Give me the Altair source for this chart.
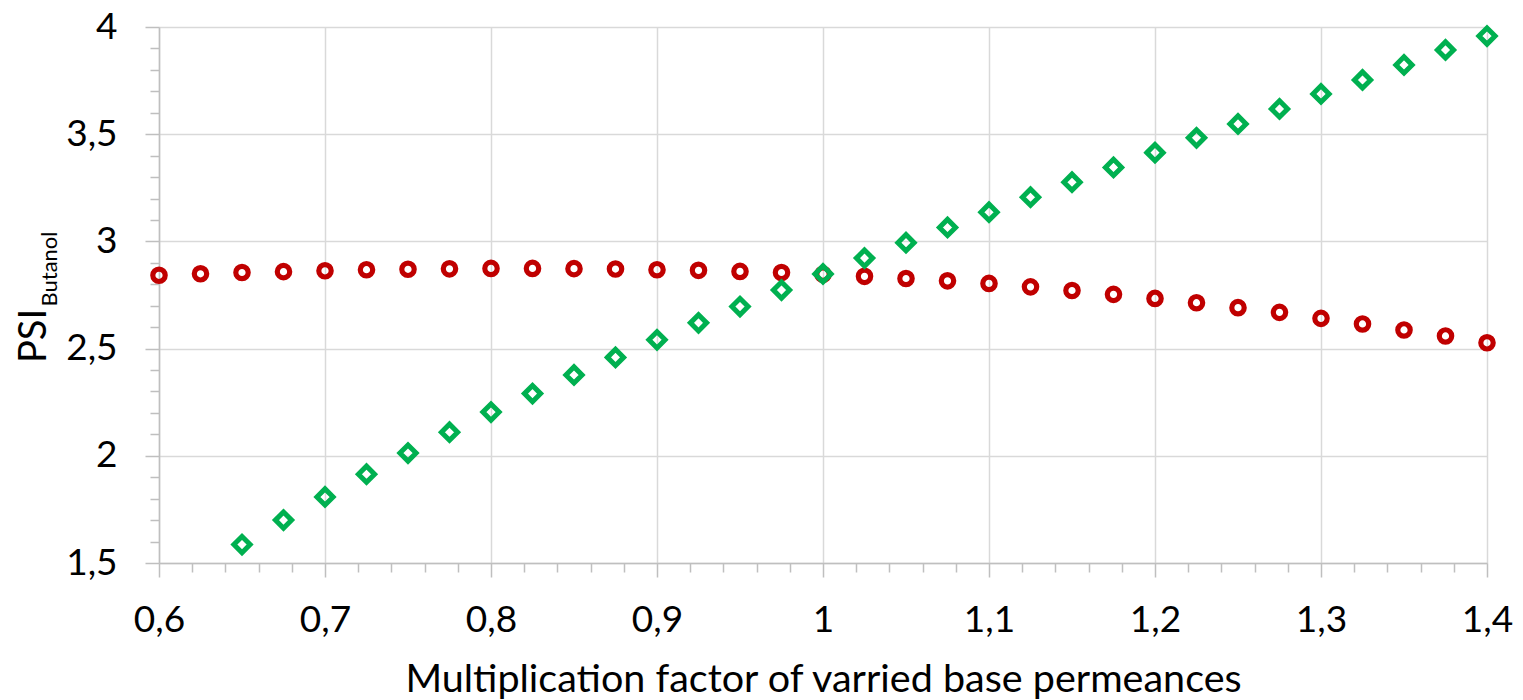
import altair as alt
import pandas as pd

# ---- data ----
red_x = [0.6, 0.625, 0.65, 0.675, 0.7, 0.725, 0.75, 0.775, 0.8, 0.825, 0.85,
         0.875, 0.9, 0.925, 0.95, 0.975, 1.0, 1.025, 1.05, 1.075, 1.1, 1.125,
         1.15, 1.175, 1.2, 1.225, 1.25, 1.275, 1.3, 1.325, 1.35, 1.375, 1.4]
red_y = [2.842, 2.849, 2.855, 2.859, 2.863, 2.868, 2.870, 2.872, 2.874, 2.874,
         2.873, 2.871, 2.868, 2.865, 2.860, 2.855, 2.847, 2.837, 2.827, 2.816,
         2.804, 2.788, 2.771, 2.753, 2.734, 2.714, 2.691, 2.669, 2.641, 2.615,
         2.587, 2.559, 2.527]

green_x = [0.65, 0.675, 0.7, 0.725, 0.75, 0.775, 0.8, 0.825, 0.85, 0.875, 0.9,
           0.925, 0.95, 0.975, 1.0, 1.025, 1.05, 1.075, 1.1, 1.125, 1.15, 1.175,
           1.2, 1.225, 1.25, 1.275, 1.3, 1.325, 1.35, 1.375, 1.4]
green_y = [1.586, 1.700, 1.808, 1.914, 2.013, 2.110, 2.204, 2.290, 2.377, 2.459,
           2.541, 2.620, 2.696, 2.773, 2.848, 2.922, 2.994, 3.065, 3.136, 3.206,
           3.276, 3.345, 3.414, 3.483, 3.548, 3.618, 3.688, 3.753, 3.823, 3.893,
           3.958]

x_ticks = [round(0.6 + 0.02 * i, 2) for i in range(41)]
y_ticks = [round(1.5 + 0.1 * i, 1) for i in range(26)]

x_title = "Multiplication factor of varried base permeances"
y_title_main = "PSI"
y_title_sub = "Butanol"

red_df = pd.DataFrame({"x": red_x, "y": red_y})
green_df = pd.DataFrame({"x": green_x, "y": green_y})

FONT = "Lato"
x_major = "abs(datum.value*10 - round(datum.value*10)) < 0.000001"
y_major = "abs(datum.value*2 - round(datum.value*2)) < 0.000001"

x_axis = alt.Axis(
    values=x_ticks,
    title=x_title,
    labelExpr=f"{x_major} ? replace(format(datum.value, '.1~f'), '.', ',') : ''",
    tickSize={"condition": {"test": x_major, "value": 14}, "value": 9},
    gridOpacity={"condition": {"test": x_major, "value": 1}, "value": 0},
    labelPadding=25,
    titlePadding=22,
    labelFlush=False,
    labelOverlap=False,
)
y_axis = alt.Axis(
    values=y_ticks,
    title="",
    labelExpr=f"{y_major} ? replace(format(datum.value, '.1~f'), '.', ',') : ''",
    tickSize={"condition": {"test": y_major, "value": 14}, "value": 9},
    gridOpacity={"condition": {"test": y_major, "value": 1}, "value": 0},
    labelPadding=28,
    labelOverlap=False,
)

xs = alt.Scale(domain=[0.6, 1.4], nice=False, zero=False)
ys = alt.Scale(domain=[1.5, 4.0], nice=False, zero=False)

red = alt.Chart(red_df).mark_point(
    shape="circle", filled=False, size=154, strokeWidth=5.2, color="#C00000", opacity=1
).encode(
    x=alt.X("x:Q", scale=xs, axis=x_axis),
    y=alt.Y("y:Q", scale=ys, axis=y_axis),
)

green = alt.Chart(green_df).mark_point(
    shape="diamond", filled=False, size=262, strokeWidth=5, color="#00B050", opacity=1
).encode(
    x=alt.X("x:Q", scale=xs, axis=x_axis),
    y=alt.Y("y:Q", scale=ys, axis=y_axis),
)

t_main = alt.Chart(pd.DataFrame({"t": [y_title_main]})).mark_text(
    angle=270, align="center", baseline="alphabetic", font=FONT, fontSize=38, color="black"
).encode(text="t:N", x=alt.value(-113), y=alt.value(309))

t_sub = alt.Chart(pd.DataFrame({"t": [y_title_sub]})).mark_text(
    angle=270, align="center", baseline="alphabetic", font=FONT, fontSize=22, color="black"
).encode(text="t:N", x=alt.value(-102), y=alt.value(242))

chart = alt.layer(red, green, t_main, t_sub).properties(
    width=1328,
    height=536,
    autosize=alt.AutoSizeParams(type="none"),
    padding={"left": 151, "top": 19, "right": 28, "bottom": 137},
).configure_view(stroke=None).configure_axis(
    domainColor="#bfbfbf",
    domainWidth=1.5,
    tickColor="#bfbfbf",
    tickWidth=1.5,
    gridColor="#d9d9d9",
    gridWidth=1.5,
    labelFont=FONT,
    labelFontSize=37,
    labelColor="black",
    titleFont=FONT,
    titleFontSize=39.5,
    titleFontWeight="normal",
    titleColor="black",
)

chart.save("out.html", embed_options={"renderer": "svg", "actions": False})
